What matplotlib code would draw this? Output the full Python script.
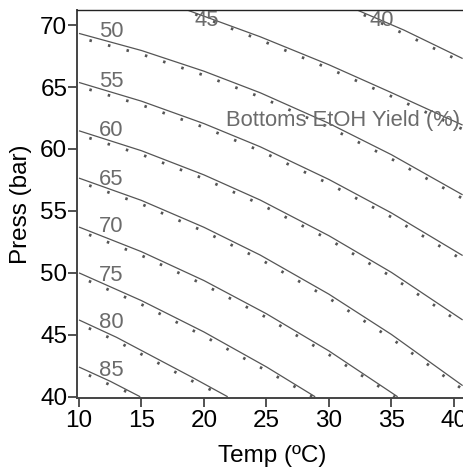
import matplotlib
matplotlib.use("Agg")
import matplotlib.pyplot as plt

plt.rcParams["font.family"] = ["Liberation Sans", "DejaVu Sans"]

# contour levels (bottoms EtOH yield, %) : temperature (C) / pressure (bar) pairs
LEVELS = [40, 45, 50, 55, 60, 65, 70, 75, 80, 85]
LINE_T = {
    40: [32.3, 36.0, 40.7],
    45: [18.7, 24.5, 30.0, 35.0, 40.7],
    50: [10.0, 15.0, 20.0, 24.5, 30.0, 35.0, 40.7],
    55: [10.0, 15.0, 20.0, 24.5, 30.0, 35.0, 40.7],
    60: [10.0, 15.0, 20.0, 24.5, 30.0, 35.0, 40.7],
    65: [10.0, 15.0, 20.0, 24.5, 30.0, 35.0, 40.7],
    70: [10.0, 15.0, 20.0, 25.0, 30.0, 35.5],
    75: [10.0, 15.0, 20.0, 25.0, 28.9],
    80: [10.0, 13.0, 16.0, 19.0, 21.9],
    85: [10.0, 12.5, 14.9],
}
LINE_P = {
    40: [71.2, 69.6, 67.3],
    45: [71.2, 69.06, 66.8, 64.55, 61.93],
    50: [69.33, 67.95, 66.28, 64.54, 62.07, 59.54, 56.3],
    55: [65.37, 63.86, 62.05, 60.18, 57.54, 54.84, 51.4],
    60: [61.47, 59.86, 57.91, 55.88, 53.0, 50.04, 46.2],
    65: [57.65, 55.85, 53.68, 51.44, 48.28, 45.03, 40.9],
    70: [53.7, 51.71, 49.38, 46.7, 43.7, 40.0],
    75: [50.0, 47.76, 45.23, 42.41, 40.0],
    80: [46.2, 44.8, 43.2, 41.6, 40.0],
    85: [42.4, 41.25, 40.0],
}
# second (dotted) set of contours, sitting just under the solid ones
DOT_T = {
    40: [32.0, 36.0, 40.7],
    45: [18.5, 24.5, 30.0, 35.0, 40.7],
    50: [10.0, 15.0, 20.0, 24.5, 30.0, 35.0, 40.7],
    55: [10.0, 15.0, 20.0, 24.5, 30.0, 35.0, 40.7],
    60: [10.0, 15.0, 20.0, 24.5, 30.0, 35.0, 40.7],
    65: [10.0, 15.0, 20.0, 24.5, 30.0, 35.0, 40.7],
    70: [10.0, 15.0, 20.0, 25.0, 30.0, 35.3],
    75: [10.0, 15.0, 20.0, 25.0, 28.7],
    80: [10.0, 13.0, 16.0, 19.0, 21.7],
    85: [10.0, 12.5, 14.8],
}
DOT_P = {
    40: [71.2, 69.3, 67.0],
    45: [71.2, 68.8, 66.5, 64.25, 61.6],
    50: [69.0, 67.65, 65.95, 64.2, 61.75, 59.2, 56.0],
    55: [65.05, 63.55, 61.75, 59.85, 57.2, 54.5, 51.05],
    60: [61.15, 59.55, 57.6, 55.55, 52.7, 49.7, 45.85],
    65: [57.35, 55.55, 53.35, 51.1, 47.95, 44.7, 40.6],
    70: [53.4, 51.4, 49.05, 46.4, 43.4, 40.0],
    75: [49.7, 47.45, 44.9, 42.1, 40.0],
    80: [45.9, 44.5, 42.9, 41.3, 40.0],
    85: [42.1, 40.95, 40.0],
}
# where each level's label sits (T, P)
LABEL_T = {40: 34.2, 45: 20.2, 50: 12.55, 55: 12.55, 60: 12.55, 65: 12.55,
           70: 12.55, 75: 12.55, 80: 12.55, 85: 12.55}
LABEL_P = {40: 70.4, 45: 70.4, 50: 69.46, 55: 65.48, 60: 61.53, 65: 57.55,
           70: 53.72, 75: 49.82, 80: 45.97, 85: 42.15}

X_TICKS = [10, 15, 20, 25, 30, 35, 40]
Y_TICKS = [40, 45, 50, 55, 60, 65, 70]

LINE_C, DOT_C, LABEL_C = "#555555", "#555555", "#6b6b6b"
FS_TICK, FS_LAB = 17.5, 15.8

fig = plt.figure(figsize=(4.63, 4.70), dpi=100)
ax = fig.add_axes([0.1663, 0.1532, 0.841, 0.825])

for lv in LEVELS:
    ax.plot(LINE_T[lv], LINE_P[lv], color=LINE_C, lw=0.9, solid_capstyle="butt")
    ax.plot(DOT_T[lv], DOT_P[lv], color=DOT_C, lw=2.0,
            linestyle=(3, (0.9, 6.0)), dash_capstyle="butt")
    ax.text(LABEL_T[lv], LABEL_P[lv], str(lv), color=LABEL_C, fontsize=FS_LAB,
            ha="center", va="center")

ax.text(21.8, 62.33, "Bottoms EtOH Yield (%)", color=LABEL_C, fontsize=FS_LAB,
        ha="left", va="center", clip_on=False)

ax.set_xlim(9.84, 41.0)
ax.set_ylim(39.9, 71.2)
ax.set_xticks(X_TICKS)
ax.set_yticks(Y_TICKS)
ax.tick_params(labelsize=FS_TICK, length=6.5, width=1.2, color="#333333")
ax.tick_params(axis="x", pad=2.5)
ax.tick_params(axis="y", pad=0.5)
for s in ["left", "bottom"]:
    ax.spines[s].set_linewidth(1.4)
    ax.spines[s].set_color("#444444")
ax.spines["top"].set_linewidth(1.0)
ax.spines["top"].set_color("#222222")
ax.spines["right"].set_visible(False)

ax.set_xlabel("Temp (ºC)", fontsize=FS_TICK, labelpad=9)
ax.set_ylabel("Press (bar)", fontsize=FS_TICK, labelpad=6)

fig.savefig("out.png", dpi=100)
